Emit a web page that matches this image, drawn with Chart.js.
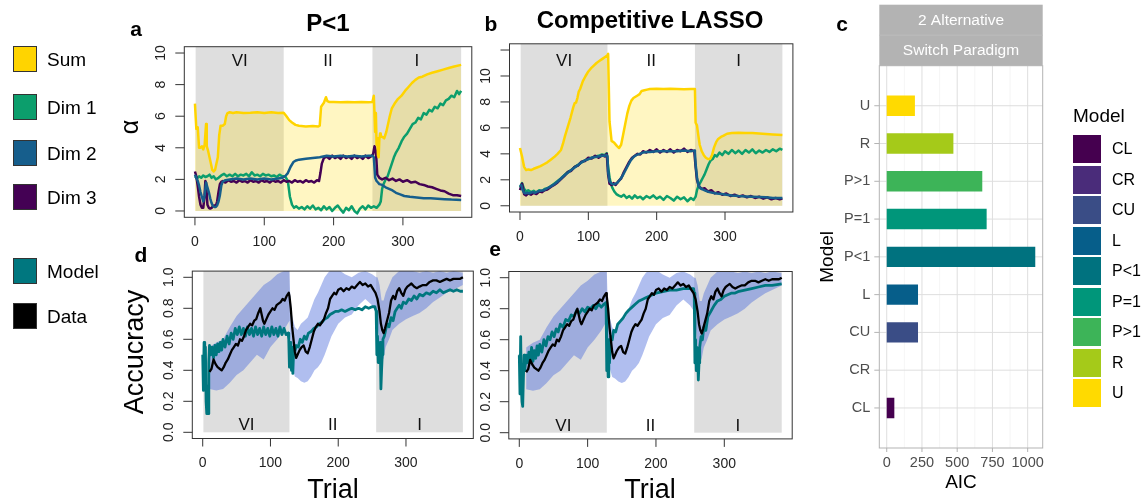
<!DOCTYPE html>
<html>
<head>
<meta charset="utf-8">
<script src="https://cdn.jsdelivr.net/npm/chart.js@4.4.1/dist/chart.umd.min.js"></script>
<style>
  body { margin: 0; background: #fff; font-family: "Liberation Sans", Arial, sans-serif; }
  #page { position: relative; width: 1146px; height: 504px; overflow: hidden; }
  canvas { position: absolute; left: 0; top: 0; }
  .t { position: absolute; transform: translate(-50%, -50%); white-space: nowrap; line-height: 1; }
  .rot { transform: translate(-50%, -50%) rotate(-90deg); }
  .b { font-weight: bold; }
  .key { position: absolute; box-sizing: border-box; }
</style>
</head>
<body>
<div id="page">
  <canvas id="cA" width="1146" height="504"></canvas>
  <canvas id="cB" width="1146" height="504"></canvas>
  <canvas id="cD" width="1146" height="504"></canvas>
  <canvas id="cE" width="1146" height="504"></canvas>
  <canvas id="cC" width="1146" height="504"></canvas>

  <div class="t b" style="left:136px;top:28px;font-size:21px">a</div>
  <div class="t b" style="left:328px;top:23px;font-size:24px">P&lt;1</div>
  <div class="t b" style="left:491px;top:23px;font-size:21px">b</div>
  <div class="t b" style="left:650px;top:20px;font-size:24px">Competitive LASSO</div>
  <div class="t b" style="left:842px;top:23px;font-size:21px">c</div>
  <div class="t b" style="left:141px;top:254px;font-size:21px">d</div>
  <div class="t b" style="left:495px;top:248px;font-size:21px">e</div>
  <div class="t rot" style="left:129px;top:127px;font-size:25px">α</div>
  <div class="t rot" style="left:134px;top:352px;font-size:27px">Accucracy</div>
  <div class="t" style="left:333px;top:489px;font-size:27px">Trial</div>
  <div class="t" style="left:650px;top:489px;font-size:27px">Trial</div>
  <div id="leftLegend"></div>
  <div id="rightLegend"></div>
</div>
<script>
// ---- data ----
const trialTicks = [0, 100, 200, 300];
const blockNames = ['VI', 'II', 'I'];
const blockStart = [1, 128, 256];
const blockEnd = [128, 256, 384];
const blockShaded = [true, false, true];

// panel a (P<1)
const aSumT = [0,2,4,6,8,10,12,14,16,17,19,21,23,25,27,29,31,33,35,37,40,43,45,47,50,55,60,70,80,90,100,110,120,128,132,136,140,145,150,160,170,178,180,182,186,189,191,194,200,210,220,230,240,250,256,258,260,261,262,263,264,265,266,267,268,270,273,276,278,281,284,288,293,298,303,308,313,318,323,328,335,342,350,358,366,374,384];
const aSumV = [6.8,5.2,5.3,4.0,4.0,4.1,3.9,4.2,5.5,4.1,3.8,3.4,3.0,2.6,2.5,2.6,3.0,3.4,4.8,5.4,5.4,5.5,6.0,6.2,6.25,6.2,6.25,6.2,6.22,6.25,6.2,6.25,6.2,6.22,6.0,5.75,5.6,5.45,5.4,5.35,5.38,5.35,5.4,6.6,6.85,7.2,6.95,6.9,6.9,6.88,6.9,6.88,6.9,6.88,6.9,7.3,5.0,6.2,4.2,4.6,3.5,3.4,4.5,4.9,4.7,4.7,4.6,5.0,5.4,6.0,6.5,6.8,7.1,7.3,7.6,7.85,8.1,8.3,8.45,8.5,8.65,8.75,8.85,8.95,9.05,9.15,9.25];

const aDim1T = [0,3,6,9,12,15,18,21,24,27,30,34,38,42,46,50,54,58,62,66,70,74,78,82,86,90,94,98,102,106,110,114,118,122,126,130,134,137,140,143,146,150,154,158,162,166,170,174,178,182,186,190,194,198,202,206,210,214,218,222,226,230,234,238,242,246,250,254,258,262,266,268,270,272,275,278,281,284,287,290,294,298,302,306,310,314,318,322,326,330,334,338,342,346,350,354,358,362,366,370,374,378,381,384];
const aDim1V = [2.2,2.05,2.2,2.1,2.25,2.15,2.2,2.3,2.1,2.2,2.0,2.1,2.25,2.35,2.2,2.3,2.2,2.35,2.2,2.3,2.25,2.35,2.2,2.45,2.25,2.3,2.2,2.35,2.25,2.3,2.2,2.25,2.15,2.3,2.2,2.2,1.9,0.9,0.4,0.2,0.3,0.15,0.25,0.1,0.3,0.15,0.35,0.1,0.2,0.05,0.3,0.1,0.25,0.0,0.2,0.35,0.1,-0.1,0.2,0.05,0.3,0.0,-0.15,0.15,0.3,0.1,0.35,0.2,0.3,0.2,0.4,0.6,1.4,1.7,2.0,2.2,2.6,3.0,3.4,3.7,4.0,4.4,4.7,4.9,5.2,5.5,5.6,5.9,5.8,6.2,6.1,6.4,6.3,6.6,6.5,6.8,6.7,7.0,7.1,7.3,7.2,7.6,7.4,7.6];

const aDim2T = [0,2,4,6,8,10,12,14,16,18,20,22,24,26,28,30,32,34,36,38,40,44,50,60,70,80,90,100,110,120,126,130,134,138,142,146,150,160,170,180,190,200,210,220,230,240,250,256,258,260,262,264,266,270,275,280,285,290,296,302,310,320,330,340,350,360,370,384];
const aDim2V = [2.3,2.1,1.9,1.6,1.2,0.9,0.6,1.0,1.8,1.5,1.2,0.8,0.5,0.3,0.25,0.25,0.35,0.6,1.0,1.6,1.85,1.95,2.0,2.05,2.0,2.05,2.0,2.05,2.0,2.05,2.1,2.2,2.4,2.8,3.1,3.2,3.25,3.3,3.35,3.4,3.5,3.45,3.5,3.45,3.5,3.45,3.5,3.5,3.4,2.1,1.9,1.8,1.7,1.65,1.5,1.4,1.3,1.15,1.05,0.95,0.9,0.85,0.8,0.8,0.78,0.75,0.72,0.7];

const aDim3T = [0,2,4,6,8,10,12,14,15,16,18,20,22,24,26,28,30,32,34,36,38,40,44,48,52,56,60,64,68,72,76,80,84,88,92,96,100,104,108,112,116,120,124,128,132,136,140,144,148,152,156,160,164,168,172,176,179,181,183,186,190,194,198,202,206,210,214,218,222,226,230,234,238,242,246,250,254,257,259,261,263,266,270,275,280,285,290,295,300,306,312,318,324,330,336,342,348,354,360,366,372,378,384];
const aDim3V = [2.5,2.2,1.6,0.9,0.4,0.2,0.2,1.0,1.9,1.8,0.4,0.2,0.15,0.2,0.3,0.35,0.3,0.6,1.2,1.7,1.85,1.9,1.8,1.95,1.85,1.9,1.8,1.95,1.85,1.9,1.8,1.95,1.85,1.9,1.8,1.95,1.85,1.9,1.8,1.95,1.85,1.9,1.8,1.95,1.85,1.9,1.8,1.95,1.85,1.9,1.8,1.95,1.85,1.9,1.8,1.95,1.9,2.4,3.0,3.35,3.45,3.3,3.5,3.35,3.45,3.3,3.5,3.35,3.45,3.3,3.5,3.35,3.45,3.3,3.5,3.35,3.45,3.6,4.1,3.8,2.3,2.1,2.0,2.1,1.95,2.05,1.9,2.0,1.85,1.95,1.8,1.85,1.7,1.65,1.55,1.5,1.4,1.3,1.25,1.1,1.0,1.0,0.95];

// panel b (Competitive LASSO)
const bSumT = [0,3,6,9,12,16,20,25,30,35,40,45,50,55,60,63,66,70,74,78,80,82,84,86,88,92,96,100,104,108,112,116,120,124,128,129,131,134,138,142,145,148,151,154,157,160,163,166,169,172,175,178,182,186,190,200,210,220,230,240,250,256,257,259,261,263,266,269,272,275,278,281,284,287,290,294,298,303,310,320,330,340,350,360,370,384];
const bSumV = [4.45,3.8,3.0,2.75,2.8,2.75,2.85,2.95,3.05,3.2,3.35,3.55,3.75,4.0,4.3,4.8,5.4,6.1,6.8,7.6,7.9,7.95,8.3,8.8,9.0,9.6,10.0,10.35,10.6,10.8,11.0,11.15,11.3,11.45,11.6,11.7,6.5,5.0,4.85,4.6,4.45,4.7,5.5,6.3,7.1,7.7,8.1,8.3,8.4,8.5,8.6,8.85,8.9,8.95,9.0,9.02,9.0,9.02,9.0,8.98,9.0,9.0,6.4,6.2,5.4,4.7,4.2,3.9,3.7,3.6,3.6,3.9,4.5,4.9,5.15,5.3,5.4,5.55,5.6,5.62,5.6,5.6,5.57,5.53,5.5,5.45];

const bDim1T = [0,3,6,9,12,16,20,24,28,32,36,40,45,50,55,60,65,70,75,80,85,90,95,100,105,110,115,120,124,127,129,131,133,135,138,141,144,148,152,156,160,164,168,172,176,180,185,190,195,200,205,210,215,220,225,230,235,240,245,250,254,257,259,261,263,265,267,270,273,276,279,282,285,288,292,296,300,305,310,315,320,325,330,335,340,345,350,355,360,365,370,375,380,384];
const bDim1V = [1.4,1.75,1.3,1.1,1.2,1.05,1.15,1.0,1.2,1.1,1.3,1.35,1.5,1.7,1.9,2.1,2.35,2.6,2.75,3.0,3.15,3.35,3.5,3.6,3.7,3.8,3.85,3.95,3.9,4.05,3.0,2.2,1.7,1.4,1.1,0.9,0.8,0.7,0.85,0.6,0.75,0.55,0.8,0.6,0.7,0.5,0.75,0.6,0.8,0.55,0.7,0.45,0.75,0.6,0.4,0.7,0.5,0.65,0.35,0.6,0.45,0.7,1.2,1.5,1.7,1.9,2.1,2.4,2.8,3.2,3.5,3.6,3.9,3.8,4.1,3.9,4.2,4.0,4.3,4.05,4.25,4.0,4.3,4.1,4.35,4.05,4.25,4.1,4.3,4.15,4.35,4.2,4.4,4.3];

const bDim2T = [0,2,4,6,8,10,14,18,22,26,30,35,40,45,50,55,60,65,70,75,80,85,90,95,100,105,110,115,120,124,127,128,129,131,134,137,140,143,146,150,154,158,162,166,170,175,180,185,190,200,210,220,230,240,250,255,256,257,259,261,264,268,272,277,282,288,295,302,310,320,330,340,350,360,370,384];
const bDim2V = [1.5,1.6,1.2,1.0,0.95,1.0,0.95,1.05,1.0,1.1,1.15,1.2,1.35,1.5,1.65,1.85,2.1,2.35,2.55,2.75,2.95,3.15,3.35,3.5,3.6,3.7,3.75,3.8,3.85,3.85,3.9,3.8,2.6,1.9,1.7,1.65,1.7,1.8,2.0,2.3,2.7,3.1,3.5,3.75,3.9,4.0,4.1,4.15,4.15,4.2,4.2,4.2,4.2,4.25,4.2,4.25,4.1,3.2,2.2,1.6,1.35,1.25,1.15,1.05,1.0,0.95,0.9,0.85,0.8,0.75,0.72,0.7,0.68,0.65,0.6,0.6];

const bDim3T = [0,3,6,9,12,16,20,24,28,32,36,40,45,50,55,60,65,70,75,80,85,90,95,100,105,110,115,120,124,127,129,131,134,137,140,144,148,152,156,160,164,168,172,176,180,185,190,195,200,205,210,215,220,225,230,235,240,245,250,255,257,259,262,266,270,275,280,285,290,296,302,308,314,320,326,332,338,344,350,356,362,368,374,380,384];
const bDim3V = [1.2,1.7,0.9,0.8,0.95,0.85,1.0,0.9,1.1,1.05,1.2,1.25,1.45,1.6,1.8,2.05,2.3,2.6,2.7,3.0,3.1,3.4,3.45,3.7,3.65,3.85,3.7,3.9,3.8,4.0,2.4,1.7,1.6,1.75,1.6,1.9,2.1,2.6,3.0,3.4,3.7,3.85,4.0,3.95,4.2,4.1,4.3,4.15,4.35,4.1,4.3,4.15,4.35,4.1,4.3,4.2,4.4,4.15,4.3,4.2,3.0,2.0,1.5,1.3,1.35,1.1,1.2,0.95,1.05,0.85,0.95,0.75,0.85,0.7,0.8,0.65,0.75,0.6,0.7,0.55,0.65,0.5,0.6,0.5,0.55];

// panels d and e: human accuracy (shared) and model accuracy
const dataT = [10,13,16,19,22,25,28,31,34,37,40,43,46,49,52,55,58,61,64,67,70,73,76,79,82,85,87,89,91,94,97,100,103,106,109,112,115,118,121,124,127,128,130,132,134,136,138,140,143,146,149,152,155,158,161,164,167,170,173,176,179,182,185,188,191,194,197,200,204,208,212,216,220,224,228,232,236,240,244,248,252,255,258,261,263,265,267,269,272,275,278,281,284,287,290,293,296,299,302,305,308,312,316,320,325,330,335,340,345,350,355,360,365,370,375,380,384];
const dataV = [0.39,0.41,0.47,0.44,0.42,0.41,0.40,0.42,0.45,0.47,0.5,0.53,0.55,0.57,0.56,0.6,0.59,0.62,0.66,0.68,0.7,0.69,0.72,0.73,0.77,0.8,0.76,0.72,0.70,0.73,0.76,0.78,0.8,0.79,0.82,0.83,0.84,0.86,0.85,0.88,0.9,0.88,0.8,0.68,0.6,0.52,0.48,0.5,0.53,0.55,0.56,0.52,0.51,0.55,0.6,0.65,0.68,0.7,0.69,0.71,0.73,0.77,0.8,0.86,0.88,0.9,0.89,0.92,0.93,0.91,0.93,0.92,0.94,0.93,0.95,0.97,0.95,0.96,0.94,0.95,0.92,0.9,0.86,0.78,0.7,0.66,0.64,0.67,0.72,0.77,0.85,0.88,0.86,0.91,0.93,0.90,0.88,0.92,0.94,0.95,0.96,0.94,0.93,0.94,0.95,0.95,0.97,0.98,0.98,0.97,0.98,0.99,0.98,0.99,0.99,0.99,1.0];

const bandT = [10,20,30,40,50,60,70,80,90,100,110,120,128,129,132,136,140,145,150,155,160,165,170,175,180,185,190,200,210,220,230,240,250,256,258,261,264,267,270,275,280,290,300,310,320,330,340,350,360,370,384];
const bandHi = [0.55,0.58,0.6,0.68,0.75,0.8,0.85,0.9,0.95,0.98,1.02,1.04,1.05,0.9,0.75,0.68,0.66,0.7,0.72,0.74,0.8,0.86,0.9,0.95,1.0,1.03,1.05,1.05,1.02,1.0,1.03,1.04,1.02,1.0,1.0,0.95,0.85,0.85,0.9,0.95,1.0,1.04,1.05,1.04,1.03,1.04,1.03,1.04,1.03,1.04,1.03];
const bandLo = [0.28,0.27,0.28,0.32,0.37,0.4,0.45,0.5,0.47,0.55,0.6,0.66,0.72,0.6,0.42,0.36,0.35,0.33,0.32,0.33,0.36,0.4,0.42,0.45,0.5,0.56,0.62,0.7,0.74,0.76,0.82,0.86,0.82,0.78,0.7,0.55,0.45,0.48,0.55,0.6,0.66,0.7,0.73,0.75,0.77,0.8,0.84,0.87,0.9,0.92,0.95];

const modelDT = [0,1,2,3,4,5,6,7,8,9,10,12,14,16,18,20,22,24,26,28,30,33,36,39,42,45,48,51,54,57,60,63,66,69,72,75,78,81,84,87,90,93,96,99,102,105,108,111,114,117,120,123,126,127,128,129,130,131,132,133,134,136,138,141,144,147,150,153,156,160,164,168,172,176,180,184,188,192,196,200,205,210,215,220,225,230,235,240,245,250,254,256,257,258,259,260,261,262,263,264,265,266,268,270,272,275,278,281,284,287,290,293,296,300,304,308,312,316,320,325,330,335,340,345,350,355,360,365,370,375,380,384];
const modelDV = [0.5,0.27,0.58,0.3,0.55,0.2,0.12,0.3,0.12,0.45,0.56,0.5,0.55,0.48,0.56,0.5,0.57,0.52,0.58,0.53,0.6,0.55,0.62,0.57,0.64,0.6,0.67,0.63,0.68,0.63,0.67,0.62,0.68,0.63,0.67,0.62,0.68,0.63,0.67,0.62,0.68,0.63,0.67,0.62,0.68,0.63,0.67,0.62,0.68,0.63,0.67,0.63,0.64,0.6,0.42,0.58,0.45,0.4,0.55,0.38,0.5,0.52,0.56,0.55,0.6,0.58,0.62,0.6,0.64,0.65,0.67,0.68,0.7,0.71,0.73,0.74,0.76,0.77,0.78,0.78,0.79,0.78,0.79,0.8,0.79,0.8,0.79,0.81,0.8,0.81,0.81,0.78,0.5,0.62,0.45,0.55,0.48,0.58,0.28,0.4,0.5,0.6,0.62,0.66,0.7,0.68,0.74,0.72,0.78,0.8,0.82,0.8,0.84,0.83,0.86,0.85,0.88,0.86,0.89,0.88,0.9,0.89,0.91,0.9,0.92,0.9,0.91,0.92,0.91,0.92,0.91,0.91];

const modelET = [0,1,2,3,4,5,6,7,8,10,12,14,16,18,20,22,24,26,28,30,33,36,39,42,45,48,51,54,57,60,64,68,72,76,80,84,88,92,96,100,104,108,112,116,120,124,127,128,129,130,131,132,134,136,138,141,144,148,152,156,160,165,170,175,180,185,190,195,200,210,220,230,240,250,255,256,257,258,259,260,261,262,263,264,266,268,270,273,276,280,285,290,295,300,305,310,315,320,330,340,350,360,370,384];
const modelEV = [0.5,0.25,0.62,0.3,0.2,0.17,0.35,0.5,0.4,0.5,0.45,0.52,0.47,0.55,0.46,0.53,0.48,0.56,0.5,0.57,0.52,0.6,0.56,0.62,0.6,0.65,0.62,0.67,0.65,0.7,0.68,0.73,0.72,0.76,0.75,0.79,0.77,0.8,0.78,0.81,0.8,0.82,0.8,0.83,0.81,0.83,0.84,0.4,0.5,0.36,0.6,0.45,0.62,0.6,0.66,0.65,0.7,0.72,0.74,0.77,0.79,0.81,0.83,0.85,0.86,0.87,0.88,0.89,0.9,0.91,0.92,0.92,0.93,0.93,0.93,0.9,0.45,0.6,0.4,0.55,0.5,0.34,0.45,0.55,0.62,0.6,0.68,0.66,0.75,0.78,0.82,0.85,0.86,0.88,0.89,0.9,0.9,0.91,0.92,0.93,0.94,0.95,0.95,0.96];

// panel c: AIC per model
const models = ['CL', 'CR', 'CU', 'L', 'P<1', 'P=1', 'P>1', 'R', 'U'];
const aicValues = [54, 0, 222, 222, 1054, 709, 678, 473, 200];
const modelColors = ['#45004F', '#4A2C7A', '#3A4D86', '#065E8A', '#00727F', '#00967A', '#3DB458', '#A5CA19', '#FFDA00'];
const aicTicks = [0, 250, 500, 750, 1000];
const aicMinor = [125, 375, 625, 875];

const alphaTicksA = [0, 2, 4, 6, 8, 10];
const alphaTicksB = [0, 2, 4, 6, 8, 10, 12];
const alphaLabelsB = ['0', '2', '4', '6', '8', '10', ''];
const accTicks = [0, 0.2, 0.4, 0.6, 0.8, 1.0];
const accLabels = ['0.0', '0.2', '0.4', '0.6', '0.8', '1.0'];

const leftKeys = ['Sum', 'Dim 1', 'Dim 2', 'Dim 3', 'Model', 'Data'];

// ---- colours ----
const COL = {
    sum: '#FFD400', dim1: '#0C9E6C', dim2: '#165E8C', dim3: '#440154',
    model: '#00777F', data: '#000000', shade: '#DEDEDE',
    sumFill: 'rgba(255, 218, 0, 0.24)', band: 'rgba(80, 110, 220, 0.45)',
};
const leftKeyColors = [COL.sum, COL.dim1, COL.dim2, COL.dim3, COL.model, COL.data];

const W = 1146, H = 504;
const FONT = '"Liberation Sans", Arial, sans-serif';
const pts = (t, v) => t.map((x, i) => ({ x, y: v[i] }));

// base-R style axes, grey blocks and block labels
const rAxes = {
    id: 'rAxes',
    beforeDraw(chart, args, o) {
        const { ctx, chartArea: ca, scales: { x, y } } = chart;
        ctx.save();
        ctx.beginPath();
        ctx.rect(ca.left, ca.top, ca.right - ca.left, ca.bottom - ca.top);
        ctx.clip();
        const y0 = y.getPixelForValue(0);
        blockStart.forEach((s, i) => {
            if (!blockShaded[i]) return;
            const x0 = x.getPixelForValue(s), x1 = x.getPixelForValue(blockEnd[i]);
            ctx.fillStyle = COL.shade;
            ctx.fillRect(x0, ca.top, x1 - x0, y0 - ca.top);
        });
        ctx.fillStyle = '#111';
        ctx.font = '17px ' + FONT;
        ctx.textAlign = 'center';
        ctx.textBaseline = 'middle';
        blockNames.forEach((n, i) => {
            ctx.fillText(n, x.getPixelForValue((blockStart[i] + blockEnd[i]) / 2), y.getPixelForValue(o.labelY));
        });
        ctx.restore();
    },
    afterDraw(chart, args, o) {
        const { ctx, chartArea: ca, scales: { x, y } } = chart;
        ctx.save();
        ctx.strokeStyle = '#333';
        ctx.lineWidth = 1;
        ctx.strokeRect(ca.left, ca.top, ca.right - ca.left, ca.bottom - ca.top);
        ctx.fillStyle = '#222';
        ctx.font = '14px ' + FONT;
        ctx.textAlign = 'center';
        ctx.textBaseline = 'middle';
        ctx.beginPath();
        trialTicks.forEach(v => {
            const px = x.getPixelForValue(v);
            ctx.moveTo(px, ca.bottom); ctx.lineTo(px, ca.bottom + 8);
            ctx.fillText(String(v), px, ca.bottom + 25);
        });
        o.yTicks.forEach((v, i) => {
            const py = y.getPixelForValue(v);
            ctx.moveTo(ca.left, py); ctx.lineTo(ca.left - 9, py);
            ctx.save();
            ctx.translate(ca.left - 23, py);
            ctx.rotate(-Math.PI / 2);
            ctx.fillText(o.yLabels[i], 0, 0);
            ctx.restore();
        });
        ctx.stroke();
        ctx.restore();
    }
};

function lineDs(label, t, v, color, width, extra) {
    return Object.assign({
        label, data: pts(t, v), borderColor: color, borderWidth: width,
        pointRadius: 0, tension: 0, fill: false, borderJoinStyle: 'round',
    }, extra || {});
}

function makeTrialChart(id, box, yRange, yTicks, yLabels, labelY, datasets) {
    return new Chart(document.getElementById(id), {
        type: 'line',
        data: { datasets },
        options: {
            responsive: false, animation: false, devicePixelRatio: 1,
            layout: { padding: { left: box[0], top: box[1], right: W - box[2], bottom: H - box[3] } },
            scales: {
                x: { type: 'linear', display: false, min: -15.36, max: 399.36 },
                y: { type: 'linear', display: false, min: yRange[0], max: yRange[1] },
            },
            plugins: {
                legend: { display: false }, tooltip: { enabled: false },
                filler: { drawTime: 'beforeDatasetsDraw' },
                rAxes: { yTicks, yLabels, labelY },
            },
        },
        plugins: [rAxes],
    });
}

const alphaLabelsA = alphaTicksA.map(String);

makeTrialChart('cA', [184.3, 46.7, 471.8, 217.3], [-0.4, 10.4], alphaTicksA, alphaLabelsA, 9.45, [
    lineDs('Sum', aSumT, aSumV, COL.sum, 2.5, { fill: 'origin', backgroundColor: COL.sumFill }),
    lineDs('Dim 2', aDim2T, aDim2V, COL.dim2, 2.5),
    lineDs('Dim 3', aDim3T, aDim3V, COL.dim3, 2.5),
    lineDs('Dim 1', aDim1T, aDim1V, COL.dim1, 2.5),
]);

makeTrialChart('cB', [509.5, 43.8, 792.9, 212], [-0.48, 12.48], alphaTicksB, alphaLabelsB, 11.1, [
    lineDs('Sum', bSumT, bSumV, COL.sum, 2.5, { fill: 'origin', backgroundColor: COL.sumFill }),
    lineDs('Dim 2', bDim2T, bDim2V, COL.dim2, 2.5),
    lineDs('Dim 3', bDim3T, bDim3V, COL.dim3, 2.5),
    lineDs('Dim 1', bDim1T, bDim1V, COL.dim1, 2.5),
]);

function accuracySets(mt, mv) {
    return [
        lineDs('Data', dataT, dataV, COL.data, 2.3),
        lineDs('Model', mt, mv, COL.model, 2.8),
        lineDs('lo', bandT, bandLo, 'rgba(0,0,0,0)', 0),
        lineDs('hi', bandT, bandHi, 'rgba(0,0,0,0)', 0, { fill: '-1', backgroundColor: COL.band }),
    ];
}

makeTrialChart('cD', [192.3, 271.1, 473.3, 438.5], [-0.04, 1.04], accTicks, accLabels, 0.045, accuracySets(modelDT, modelDV));
makeTrialChart('cE', [508.8, 271.5, 792.2, 438.9], [-0.04, 1.04], accTicks, accLabels, 0.04, accuracySets(modelET, modelEV));

// ---- panel c: ggplot-style horizontal bars ----
const ggPanel = {
    id: 'ggPanel',
    beforeDatasetsDraw(chart) {
        const { ctx, chartArea: ca, scales: { x, y } } = chart;
        ctx.save();
        ctx.lineWidth = 0.6;
        ctx.strokeStyle = '#EFEFEF';
        ctx.beginPath();
        aicMinor.forEach(v => { const px = x.getPixelForValue(v); ctx.moveTo(px, ca.top); ctx.lineTo(px, ca.bottom); });
        ctx.stroke();
        ctx.lineWidth = 1;
        ctx.strokeStyle = '#DEDEDE';
        ctx.beginPath();
        aicTicks.forEach(v => { const px = x.getPixelForValue(v); ctx.moveTo(px, ca.top); ctx.lineTo(px, ca.bottom); });
        models.forEach((m, i) => { const py = y.getPixelForValue(i + 1); ctx.moveTo(ca.left, py); ctx.lineTo(ca.right, py); });
        ctx.stroke();
        ctx.restore();
    },
    afterDraw(chart) {
        const { ctx, chartArea: ca, scales: { x, y } } = chart;
        ctx.save();
        // strip
        ctx.fillStyle = '#B3B3B3';
        ctx.fillRect(ca.left, ca.top - 61, ca.right - ca.left, 61);
        ctx.strokeStyle = '#BDBDBD';
        ctx.beginPath(); ctx.moveTo(ca.left, ca.top - 30.5); ctx.lineTo(ca.right, ca.top - 30.5); ctx.stroke();
        ctx.fillStyle = '#fff';
        ctx.font = '15.5px ' + FONT;
        ctx.textAlign = 'center';
        ctx.textBaseline = 'middle';
        const cx = (ca.left + ca.right) / 2;
        ctx.fillText('2 Alternative', cx, ca.top - 45);
        ctx.fillText('Switch Paradigm', cx, ca.top - 14.5);
        // border
        ctx.strokeStyle = '#B3B3B3';
        ctx.lineWidth = 1;
        ctx.strokeRect(ca.left, ca.top, ca.right - ca.left, ca.bottom - ca.top);
        // ticks + labels
        ctx.fillStyle = '#4D4D4D';
        ctx.font = '14.5px ' + FONT;
        ctx.beginPath();
        aicTicks.forEach(v => {
            const px = x.getPixelForValue(v);
            ctx.moveTo(px, ca.bottom); ctx.lineTo(px, ca.bottom + 4);
            ctx.fillText(String(v), px, ca.bottom + 15);
        });
        ctx.textAlign = 'right';
        models.forEach((m, i) => {
            const py = y.getPixelForValue(i + 1);
            ctx.moveTo(ca.left - 5, py); ctx.lineTo(ca.left, py);
            ctx.fillText(m, ca.left - 9, py);
        });
        ctx.stroke();
        // axis titles
        ctx.fillStyle = '#000';
        ctx.font = '19px ' + FONT;
        ctx.textAlign = 'center';
        ctx.fillText('AIC', cx, ca.bottom + 35);
        ctx.save();
        ctx.translate(ca.left - 52, (ca.top + ca.bottom) / 2);
        ctx.rotate(-Math.PI / 2);
        ctx.fillText('Model', 0, 0);
        ctx.restore();
        ctx.restore();
    }
};

new Chart(document.getElementById('cC'), {
    type: 'bar',
    data: {
        datasets: [{
            label: 'AIC',
            data: models.map((m, i) => ({ x: aicValues[i], y: i + 1 })),
            backgroundColor: modelColors,
            borderWidth: 0,
            categoryPercentage: 1, barPercentage: 0.9,
        }]
    },
    options: {
        indexAxis: 'y', responsive: false, animation: false, devicePixelRatio: 1,
        layout: { padding: { left: 879.3, top: 65.7, right: W - 1042.7, bottom: H - 448 } },
        scales: {
            x: { type: 'linear', display: false, min: -52.7, max: 1106.7 },
            y: { type: 'linear', display: false, min: 0.4, max: 9.6 },
        },
        plugins: { legend: { display: false }, tooltip: { enabled: false } },
    },
    plugins: [ggPanel],
});

// ---- legends ----
const leftRows = [59, 107, 153, 197, 271, 316];
document.getElementById('leftLegend').innerHTML = leftKeys.map((k, i) => `
    <div class="key" style="left:13px;top:${leftRows[i] - 13}px;width:24px;height:26px;background:${leftKeyColors[i]};border:1px solid #333"></div>
    <div class="t" style="left:47px;top:${leftRows[i]}px;font-size:19px;transform:translate(0,-50%)">${k}</div>`).join('');

document.getElementById('rightLegend').innerHTML =
    `<div class="t" style="left:1073px;top:115px;font-size:19px;transform:translate(0,-50%)">Model</div>` +
    models.map((m, i) => `
    <div class="key" style="left:1073px;top:${135 + i * 30.5}px;width:28px;height:28px;background:${modelColors[i]}"></div>
    <div class="t" style="left:1112px;top:${149 + i * 30.5}px;font-size:16px;transform:translate(0,-50%)">${m.replace('<', '&lt;').replace('>', '&gt;')}</div>`).join('');
</script>
</body>
</html>
